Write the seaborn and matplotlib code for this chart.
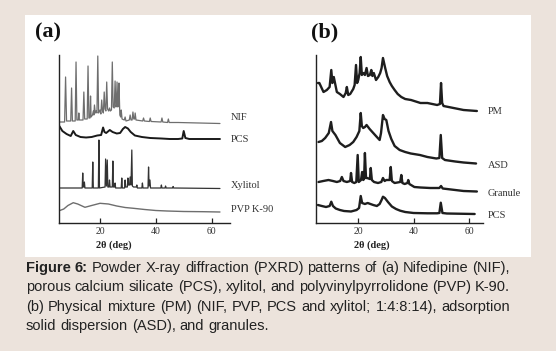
import matplotlib
matplotlib.use("Agg")
import matplotlib.pyplot as plt
from matplotlib.patches import Rectangle
import matplotlib.transforms as mtransforms
import numpy as np
import pandas as pd
import seaborn as sns

# ---------------- data (2theta in deg, intensity in arbitrary units incl. offset) -------------
nif_a = [(5.4,101),(7.3,101),(7.65,146),(8.0,102),(9.5,102),(9.8,135),(10.1,102),(11.1,102),(11.4,161),
         (11.7,103),(12.2,103),(12.4,110),(12.6,103),(13.9,103),(14.2,131),(14.5,104),(15.4,104),(15.7,157),
         (16.0,105),(16.4,105),(16.6,127),(16.8,106),(17.3,108),(17.6,112),(17.8,108),(18.0,118),(18.3,110),
         (18.6,112),(18.9,110),(19.2,167),(19.5,110),(20.0,113),(20.3,109),(20.6,123),(20.9,112),(21.2,110),
         (21.5,131),(21.8,114),(22.1,112),(22.4,141),(22.7,114),(23.1,112),(23.4,115),(23.7,112),(24.1,113),
         (24.4,161),(24.7,116),(25.1,115),(25.4,142),(25.7,116),(25.9,118),(26.1,141),(26.4,116),(26.6,118),
         (26.8,140),(27.1,108),(27.4,106),(27.6,113),(27.9,104),(28.7,103),(29.0,106),(29.3,102),(30.5,103),
         (30.8,108),(31.1,103),(31.5,103),(31.8,111),(32.1,104),(32.4,104),(32.6,110),(32.9,103),(35.3,102),
         (35.6,105),(35.9,102),(37.7,101.5),(38.0,105),(38.3,101.5),(41.9,101),(42.2,105),(42.5,101),
         (44.2,100.5),(44.5,104),(44.8,100.5),(48.0,100.5),(63.0,99.5)]
pcs_a = [(5.4,97),(6.5,92),(8,89),(9.5,87),(10.4,92),(11.3,88),(13,86),(15,85.5),(17,86),(19,87.5),
         (20.4,88),(21.1,95.5),(21.6,91),(22.2,90),(23.5,93),(24.5,91),(26,89.5),(27.2,90),(28.2,94),
         (29,96),(30,94.5),(31,91),(32.5,87.5),(35,86),(38,85),(42,84.5),(45,84),(48,84),(49.5,84.5),
         (50,92),(50.6,85),(52,84),(56,84),(63,84)]
xyl_a = [(5.4,35),(13.6,35),(13.8,50),(14.0,36),(14.2,36),(14.4,41),(14.6,35),(17.2,35),(17.4,61),(17.6,35),
         (19.4,35),(19.6,83),(19.8,35),(21.8,36),(22.0,64),(22.3,37),(22.6,63),(22.8,36),(23.2,36),(23.4,43),
         (23.6,36),(24.4,36),(24.6,62),(24.8,36),(25.2,36),(25.4,40),(25.6,35),(27.6,35),(27.8,45),(28.0,35),
         (28.8,35),(29.0,43),(29.2,36),(29.8,36),(30.0,45),(30.2,38),(30.6,38),(30.8,46),(31.1,38),(31.4,73),
         (31.6,37),(32.0,36),(33.0,36),(33.2,38),(33.4,35),(35.0,35),(35.2,40),(35.4,35),(37.2,35),(37.4,56),
         (37.6,37),(37.9,43),(38.1,35),(41.8,35),(42.0,38),(42.2,35),(43.3,35),(43.5,37),(43.7,35),(46.0,35),
         (46.2,36.5),(46.4,35),(63.0,34.5)]
pvp_a = [(5.4,12.3),(7,14),(8.5,17.5),(10.4,20.3),(12,19),(14.6,15.7),(17,17.5),(20,19.7),(23,19),(26,17),
         (29,15.5),(32,14.7),(36,13.5),(40,12.5),(44,12),(50,11.5),(57,11.3),(63,11)]

pm_b = [(5.6,140),(6.1,140),(7.6,131),(8.8,133),(9.8,136),(10.4,153),(10.8,140),(11.3,146),(12.4,131),
        (13.5,129),(14.8,126),(15.6,130),(16.0,136),(16.5,128),(17.2,129),(18.3,134),(18.8,138),(19.3,158),
        (19.7,140),(20.1,143),(20.6,150),(21.0,166),(21.4,148),(21.9,150),(22.5,148),(23.1,155),(23.6,147),
        (24.3,148),(24.8,153),(25.2,147),(25.7,150),(26.5,143),(27.3,146),(28.0,150),(28.5,155),(29.0,165),
        (29.8,155),(30.5,147),(31.4,141),(32.2,137),(33.2,133),(34.3,129),(35.6,126),(37,124),(39.1,123),
        (42.5,120),(45,120),(48.5,118),(49.5,119),(49.9,140),(50.3,120),(50.8,117),(54.4,115),(58,113),
        (62.8,112)]
asd_b = [(5.8,81),(7,82),(8.2,85),(9.5,90),(10.3,101),(10.8,92),(11.9,88),(13.5,80),(15.4,76),(17,78),
         (18.3,81),(19.5,86),(20.5,92),(21.0,110),(21.4,97),(21.9,95),(22.5,96),(23.1,98),(24.2,94),(25.5,90),
         (26.8,86),(27.8,83),(28.3,90),(29.0,108),(29.6,104),(30.2,103),(31,92),(32,84),(33.2,77),(35,73),
         (37,71),(39,69.5),(42.3,68),(45,66),(48.2,64.5),(49.3,65),(49.8,88),(50.3,65),(51.3,63),(55,61.5),
         (58,60.5),(62.5,59.5)]
gran_b = [(5.8,41),(7.5,42),(9.4,43),(11,42),(12.4,41),(13.6,42),(14.2,46),(14.8,42),(16,41),(17.2,42),
          (17.5,50),(17.9,41),(18.7,40),(19.4,41),(19.9,68),(20.3,41),(21.1,43),(21.5,51),(21.9,43),(22.2,44),
          (22.5,70),(22.9,45),(23.3,45),(24.3,44),(24.6,55),(25.0,43),(25.8,41),(27.2,40),(28.4,41),(29.0,45),
          (29.6,42),(30.2,43),(31.4,43),(31.8,56),(32.2,42),(33.2,40),(35.2,41),(35.6,48),(36.0,40),(36.8,39),
          (37.8,40),(38.1,43),(38.5,39),(40.3,36),(42.5,35.5),(46,35),(49.3,35),(49.9,37),(50.5,34.5),
          (52,34),(55,33),(58,32),(62.8,31.5)]
pcs_b = [(5.6,18),(7,17),(8.5,16),(9.8,17),(10.4,21.3),(11,17),(12,14.5),(13.5,13),(15,12),(17.5,11.5),
         (19.5,13),(20.4,15),(21.0,27),(21.5,20),(22.5,19),(23.5,20),(24.5,19),(25.5,18),(26.8,17),(27.8,19),
         (28.5,23),(29.0,26.3),(29.7,25),(30.8,21),(32.2,16.5),(33.7,14),(35.2,12.3),(37,11),(40,10),(45,9.7),
         (48.5,9.7),(49.3,10),(49.8,20.3),(50.4,10),(52,9.5),(56,9.3),(62,9)]

labels_a = ["NIF", "PCS", "Xylitol", "PVP K-90"]
label_y_a = [105, 84, 38, 13]
labels_b = ["PM", "ASD", "Granule", "PCS"]
label_y_b = [112, 58, 30, 8]
xticks = [20, 40, 60]
caption_lines = [
    "Figure 6: Powder X-ray diffraction (PXRD) patterns of (a) Nifedipine (NIF),",
    "porous calcium silicate (PCS), xylitol, and polyvinylpyrrolidone (PVP) K-90.",
    "(b) Physical mixture (PM) (NIF, PVP, PCS and xylitol; 1:4:8:14), adsorption",
    "solid dispersion (ASD), and granules.",
]

# ---------------- style ----------------
sns.set_theme(style="white")
plt.rcParams["font.family"] = ["Liberation Serif", "DejaVu Serif"]
BG = "#ECE3DC"
W, H = 556, 351

fig = plt.figure(figsize=(W / 100, H / 100), dpi=100)
fig.patch.set_facecolor(BG)
fig.add_artist(Rectangle((25 / W, 1 - 257 / H), (531 - 25) / W, (257 - 15) / H,
                         transform=fig.transFigure, facecolor="white", edgecolor="none", zorder=-1))


def px_axes(l, r, t, b):
    return fig.add_axes([l / W, 1 - b / H, (r - l) / W, (b - t) / H])


ax_a = px_axes(59.3, 230, 55, 223)
ax_b = px_axes(316, 483, 55, 223)


def draw(ax, pts, color, lw):
    df = pd.DataFrame(pts, columns=["x", "y"])
    sns.lineplot(data=df, x="x", y="y", ax=ax, color=color, linewidth=lw,
                 estimator=None, sort=False)


draw(ax_a, nif_a, "#6e6e6e", 0.9)
draw(ax_a, pcs_a, "#1a1a1a", 1.4)
draw(ax_a, xyl_a, "#333333", 0.9)
draw(ax_a, pvp_a, "#6e6e6e", 1.0)

for pts in (pm_b, asd_b, gran_b, pcs_b):
    draw(ax_b, pts, "#1e1e1e", 1.7)

for ax, xl, labs, ly, lx, name, nx in (
        (ax_a, (5.4, 66.6), labels_a, label_y_a, 66.8, "(a)", 47.5),
        (ax_b, (4.9, 65.0), labels_b, label_y_b, 66.8, "(b)", 325)):
    ax.set_xlim(*xl)
    ax.set_ylim(0, 168)
    ax.set_facecolor("white")
    for s in ("top", "right"):
        ax.spines[s].set_visible(False)
    for s in ("left", "bottom"):
        ax.spines[s].set_color("#222222")
        ax.spines[s].set_linewidth(1.0)
    ax.set_xticks(xticks)
    ax.set_xticklabels([str(t) for t in xticks])
    ax.set_yticks([])
    ax.tick_params(axis="x", direction="in", length=3.5, width=0.9, color="#222222",
                   labelsize=7, labelcolor="#333333", pad=3, bottom=True)
    ax.set_xlabel("")
    ax.set_ylabel("")
    for lab, y in zip(labs, ly):
        ax.text(lx, y, lab, fontsize=7.5, color="#333333", ha="left", va="center", clip_on=False)
    trans = mtransforms.blended_transform_factory(ax.transData, ax.transAxes)
    ax.text(25, -0.131, "2θ (deg)", transform=trans, fontsize=7.5, fontweight="bold",
            color="#222222", ha="center", va="center")
    fig.text(nx / W, 1 - 32.5 / H, name, fontsize=16, fontweight="bold", color="#111111",
             ha="center", va="center")

# ---------------- caption (justified) ----------------
cap_family = ["Liberation Sans", "DejaVu Sans"]
cap_size = 10.5
left_px, right_px = 26, 510
baselines = [271.7, 291.4, 310.6, 330.0]
renderer = fig.canvas.get_renderer()
sp = fig.text(0, 0, "a a", fontsize=cap_size, family=cap_family)
sp2 = fig.text(0, 0, "aa", fontsize=cap_size, family=cap_family)
space_w = sp.get_window_extent(renderer).width - sp2.get_window_extent(renderer).width
sp.remove()
sp2.remove()
for i, (line, base) in enumerate(zip(caption_lines, baselines)):
    words = line.split(" ")
    arts = []
    for j, w in enumerate(words):
        bold = (i == 0 and j < 2)
        t = fig.text(0, 1 - base / H, w, fontsize=cap_size, family=cap_family,
                     fontweight="bold" if bold else "normal", color="#222222",
                     ha="left", va="baseline")
        arts.append(t)
    widths = [a.get_window_extent(renderer).width for a in arts]
    if i < len(caption_lines) - 1:
        gap = (right_px - left_px - sum(widths)) / (len(words) - 1)
    else:
        gap = space_w
    x = left_px
    for a, wdt in zip(arts, widths):
        a.set_x(x / W)
        x += wdt + gap

fig.savefig("out.png", dpi=100, facecolor=BG)
